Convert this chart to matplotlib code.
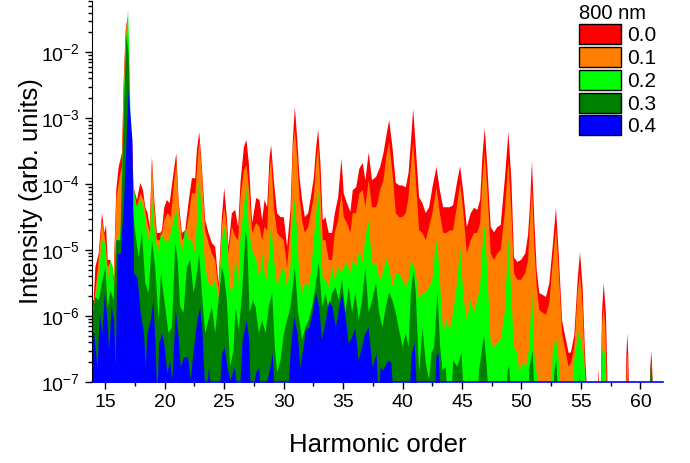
import numpy as np
import matplotlib
matplotlib.use("Agg")
import matplotlib.pyplot as plt
from matplotlib.patches import Patch
from matplotlib.ticker import MultipleLocator, LogLocator, NullFormatter

plt.rcParams['font.family'] = ['Liberation Sans', 'DejaVu Sans']
plt.rcParams['mathtext.fontset'] = 'custom'
plt.rcParams['mathtext.rm'] = 'Liberation Sans'
plt.rcParams['mathtext.it'] = 'Liberation Sans:italic'
plt.rcParams['mathtext.bf'] = 'Liberation Sans:bold'

# spectra: (harmonic order, log10 intensity)
# -7.3 means "below the axis floor"
spec_00 = [
    (13.74, -5.76), (14.02, -5.76), (14.16, -5.26), (14.44, -5.05), (14.72, -4.44), (14.92, -4.74),
    (15.06, -4.62), (15.20, -5.15), (15.42, -5.15), (15.70, -5.41), (15.92, -4.09), (16.12, -3.74),
    (16.40, -3.53), (16.54, -2.47), (16.71, -1.67), (16.88, -1.45), (17.10, -3.23), (17.24, -3.29),
    (17.38, -4.05), (17.66, -4.24), (17.94, -3.98), (18.17, -4.09), (18.36, -4.35), (18.56, -4.44),
    (18.73, -4.65), (18.92, -3.59), (19.12, -4.24), (19.34, -4.74), (19.62, -4.74), (19.76, -4.70),
    (19.96, -4.35), (20.18, -4.24), (20.41, -4.29), (20.69, -3.89), (20.97, -3.53), (21.16, -4.24),
    (21.44, -4.74), (21.72, -4.70), (22.00, -4.27), (22.28, -3.91), (22.56, -3.91), (22.70, -3.48),
    (22.90, -3.21), (23.12, -3.74), (23.40, -4.55), (23.68, -4.74), (23.96, -4.89), (24.24, -4.95),
    (24.52, -5.50), (24.80, -4.50), (25.00, -4.06), (25.22, -4.50), (25.36, -4.95), (25.64, -4.44),
    (25.92, -4.39), (26.17, -4.65), (26.37, -3.97), (26.65, -3.44), (26.87, -3.33), (27.07, -3.68),
    (27.35, -4.59), (27.69, -4.21), (27.97, -4.24), (28.19, -4.55), (28.39, -4.24), (28.61, -4.35),
    (28.81, -3.59), (28.95, -3.41), (29.17, -3.94), (29.45, -4.44), (29.73, -4.50), (30.01, -4.50),
    (30.29, -4.95), (30.57, -4.39), (30.77, -3.33), (30.94, -2.83), (31.13, -3.29), (31.33, -3.89),
    (31.55, -4.24), (31.78, -4.50), (32.06, -4.44), (32.28, -4.20), (32.53, -3.91), (32.73, -3.44),
    (32.90, -3.17), (33.09, -3.68), (33.29, -4.55), (33.51, -4.50), (33.79, -4.74), (34.07, -4.74),
    (34.30, -4.44), (34.58, -4.20), (34.86, -3.61), (35.05, -4.14), (35.33, -4.29), (35.61, -4.42),
    (35.81, -4.09), (36.09, -4.05), (36.37, -3.76), (36.65, -3.68), (36.87, -3.94), (37.15, -3.52),
    (37.43, -3.94), (37.77, -3.89), (38.11, -3.74), (38.39, -3.53), (38.67, -3.23), (38.87, -3.03),
    (39.15, -3.44), (39.43, -3.98), (39.71, -4.02), (39.99, -4.02), (40.27, -4.05), (40.50, -3.83),
    (40.69, -3.38), (40.89, -2.86), (41.11, -3.44), (41.39, -4.20), (41.67, -4.29), (41.95, -4.44),
    (42.23, -4.35), (42.51, -4.05), (42.85, -3.74), (43.13, -4.09), (43.41, -4.35), (43.69, -4.35),
    (43.97, -4.35), (44.25, -4.32), (44.61, -3.94), (44.84, -3.73), (45.12, -4.14), (45.40, -4.65),
    (45.73, -4.44), (46.01, -4.36), (46.29, -4.39), (46.52, -4.24), (46.71, -3.59), (46.91, -3.15),
    (47.13, -3.74), (47.41, -4.65), (47.69, -4.73), (47.97, -4.65), (48.25, -4.62), (48.59, -3.94),
    (48.90, -3.21), (49.15, -3.94), (49.37, -5.11), (49.65, -5.18), (49.96, -5.15), (50.32, -5.05),
    (50.55, -4.77), (50.72, -4.29), (50.88, -3.65), (51.08, -4.55), (51.28, -5.30), (51.50, -5.65),
    (51.78, -5.68), (52.06, -5.71), (52.34, -5.50), (52.62, -4.95), (52.90, -4.36), (53.13, -5.05),
    (53.41, -6.06), (53.69, -6.32), (53.97, -6.56), (54.16, -6.55), (54.44, -6.29), (54.72, -5.45),
    (54.92, -5.03), (55.14, -5.56), (55.34, -6.56), (55.56, -7.3), (56.40, -7.3), (56.49, -6.79),
    (56.58, -7.3), (56.65, -7.3), (56.77, -5.95), (56.91, -5.50), (57.10, -5.95), (57.27, -7.3),
    (58.73, -7.3), (58.82, -6.60), (58.90, -6.26), (58.98, -6.60), (59.06, -7.3), (60.74, -7.3),
    (60.83, -6.80), (60.91, -6.52), (60.99, -6.80), (61.08, -7.3), (62.0, -7.3),
]

spec_01 = [
    (13.74, -5.86), (14.02, -5.86), (14.30, -5.41), (14.72, -4.55), (15.00, -4.85), (15.20, -5.26),
    (15.42, -5.20), (15.70, -5.50), (15.92, -4.24), (16.20, -3.89), (16.40, -3.74), (16.54, -2.62),
    (16.71, -1.71), (16.88, -1.51), (17.10, -3.33), (17.38, -4.14), (17.66, -4.35), (17.94, -4.14),
    (18.22, -4.24), (18.50, -4.55), (18.73, -4.74), (18.92, -3.64), (19.12, -4.35), (19.34, -4.85),
    (19.68, -4.85), (19.96, -4.55), (20.24, -4.44), (20.52, -4.50), (20.74, -4.05), (20.97, -3.68),
    (21.19, -4.35), (21.44, -4.85), (21.72, -4.80), (22.00, -4.50), (22.28, -4.14), (22.56, -4.14),
    (22.90, -3.33), (23.12, -3.83), (23.40, -4.70), (23.68, -4.89), (23.96, -5.05), (24.24, -5.15),
    (24.52, -5.61), (24.80, -4.65), (25.00, -4.35), (25.22, -4.65), (25.36, -5.05), (25.64, -4.65),
    (25.95, -4.80), (26.17, -4.85), (26.37, -4.20), (26.65, -3.79), (26.87, -3.71), (27.07, -4.05),
    (27.35, -4.74), (27.69, -4.59), (27.97, -4.65), (28.19, -4.85), (28.39, -4.65), (28.61, -4.70),
    (28.81, -3.83), (28.95, -3.61), (29.17, -4.35), (29.45, -4.74), (29.73, -4.80), (30.01, -4.85),
    (30.29, -5.26), (30.57, -4.65), (30.77, -3.44), (30.94, -3.18), (31.13, -3.59), (31.33, -4.20),
    (31.55, -4.55), (31.78, -4.74), (32.06, -4.65), (32.28, -4.44), (32.53, -4.20), (32.73, -3.68),
    (32.90, -3.41), (33.09, -4.09), (33.29, -4.85), (33.51, -4.85), (33.79, -5.15), (34.07, -5.15),
    (34.30, -4.74), (34.58, -4.55), (34.86, -4.14), (35.05, -4.50), (35.33, -4.59), (35.61, -4.74),
    (35.81, -4.44), (36.09, -4.44), (36.37, -4.14), (36.65, -4.09), (36.87, -4.35), (37.15, -3.94),
    (37.43, -4.35), (37.77, -4.35), (37.89, -4.29), (38.11, -4.09), (38.39, -3.94), (38.67, -3.53),
    (38.87, -3.36), (39.15, -3.83), (39.43, -4.44), (39.71, -4.50), (39.99, -4.50), (40.27, -4.44),
    (40.50, -4.20), (40.69, -3.74), (40.89, -3.36), (41.11, -3.94), (41.39, -4.70), (41.67, -4.74),
    (41.95, -4.85), (42.23, -4.65), (42.51, -4.44), (42.85, -4.05), (43.13, -4.44), (43.41, -4.74),
    (43.69, -4.74), (43.97, -4.70), (44.25, -4.70), (44.61, -4.29), (44.84, -3.98), (45.12, -4.44),
    (45.40, -5.05), (45.73, -4.85), (46.01, -4.74), (46.29, -4.74), (46.52, -4.59), (46.71, -3.94),
    (46.91, -3.52), (47.13, -4.09), (47.41, -5.05), (47.69, -5.15), (47.97, -5.05), (48.25, -5.00),
    (48.59, -4.44), (48.90, -3.64), (49.15, -4.44), (49.37, -5.35), (49.65, -5.45), (49.96, -5.45),
    (50.32, -5.35), (50.55, -5.15), (50.72, -4.55), (50.88, -4.05), (51.08, -4.95), (51.28, -5.56),
    (51.50, -5.91), (51.78, -5.95), (52.06, -5.98), (52.34, -5.80), (52.62, -5.20), (52.90, -4.67),
    (53.13, -5.30), (53.41, -6.26), (53.69, -6.52), (53.97, -6.77), (54.16, -6.71), (54.44, -6.47),
    (54.72, -5.65), (54.92, -5.35), (55.14, -5.86), (55.34, -6.82), (55.51, -7.3), (56.68, -7.3),
    (56.77, -6.17), (56.91, -5.86), (57.05, -6.17), (57.20, -7.3), (58.78, -7.3), (58.84, -6.80),
    (58.90, -6.56), (58.96, -6.80), (59.02, -7.3), (60.78, -7.3), (60.91, -6.62), (61.04, -7.3),
    (62.0, -7.3),
]

spec_02 = [
    (13.74, -6.06), (14.16, -5.76), (14.44, -5.35), (14.72, -4.85), (15.00, -4.89), (15.20, -5.50),
    (15.42, -5.15), (15.64, -5.26), (15.76, -5.65), (15.98, -4.85), (16.26, -4.74), (16.40, -4.24),
    (16.54, -2.73), (16.71, -1.97), (16.91, -1.35), (17.05, -2.23), (17.16, -3.48), (17.38, -4.05),
    (17.66, -4.35), (17.94, -4.24), (18.22, -4.35), (18.50, -4.74), (18.73, -4.89), (18.92, -4.20),
    (19.20, -4.85), (19.48, -5.00), (19.68, -4.74), (19.96, -4.85), (20.24, -4.89), (20.52, -4.74),
    (20.74, -4.55), (20.97, -4.39), (21.19, -4.74), (21.44, -5.05), (21.72, -4.65), (22.00, -4.85),
    (22.28, -4.85), (22.56, -5.05), (22.90, -3.83), (23.12, -4.55), (23.40, -5.26), (23.68, -5.50),
    (23.96, -5.56), (24.24, -5.45), (24.52, -5.76), (24.80, -4.85), (25.00, -4.65), (25.22, -4.85),
    (25.50, -5.61), (25.78, -5.56), (25.95, -5.05), (26.17, -5.56), (26.37, -4.80), (26.65, -4.35),
    (26.87, -4.05), (27.07, -4.70), (27.35, -5.00), (27.69, -5.15), (27.97, -5.45), (28.19, -5.05),
    (28.39, -5.35), (28.61, -5.45), (28.81, -4.95), (28.95, -4.59), (29.17, -5.11), (29.45, -5.56),
    (29.73, -5.35), (30.01, -5.26), (30.29, -5.56), (30.57, -5.26), (30.77, -4.44), (30.94, -4.24),
    (31.13, -4.74), (31.33, -5.45), (31.55, -5.65), (31.78, -5.50), (32.06, -5.56), (32.28, -5.35),
    (32.53, -4.85), (32.73, -4.44), (32.90, -4.09), (33.09, -4.70), (33.29, -5.45), (33.51, -5.45),
    (33.79, -5.56), (34.07, -5.26), (34.30, -5.45), (34.58, -5.26), (34.86, -5.35), (35.05, -5.26),
    (35.33, -5.20), (35.61, -5.35), (35.81, -5.15), (36.09, -5.26), (36.37, -5.00), (36.65, -5.20),
    (36.87, -4.80), (37.15, -4.55), (37.43, -5.20), (37.77, -5.20), (37.89, -5.35), (38.17, -5.45),
    (38.45, -5.26), (38.67, -5.12), (38.87, -5.26), (39.15, -5.56), (39.43, -5.35), (39.71, -5.35),
    (39.99, -5.45), (40.27, -5.56), (40.50, -5.45), (40.69, -5.18), (40.89, -5.20), (41.11, -5.35),
    (41.39, -5.76), (41.67, -5.65), (41.95, -5.65), (42.23, -5.56), (42.51, -5.45), (42.79, -4.89),
    (42.93, -4.88), (43.13, -5.45), (43.41, -6.26), (43.69, -6.06), (43.97, -6.21), (44.25, -5.95),
    (44.61, -5.45), (44.84, -4.95), (45.12, -5.71), (45.40, -6.06), (45.73, -5.76), (46.01, -5.95),
    (46.29, -5.76), (46.52, -5.56), (46.71, -4.95), (46.91, -4.62), (47.13, -5.35), (47.41, -6.41),
    (47.69, -6.47), (47.97, -6.41), (48.25, -6.36), (48.59, -5.95), (48.90, -4.80), (49.15, -5.71),
    (49.37, -6.47), (49.65, -6.56), (49.82, -6.86), (50.10, -6.71), (50.38, -6.77), (50.66, -6.47),
    (50.88, -5.58), (51.08, -6.56), (51.28, -6.86), (51.45, -7.3), (52.50, -7.3), (52.62, -6.56),
    (52.90, -6.32), (53.13, -6.67), (53.30, -7.3), (54.30, -7.3), (54.44, -6.67), (54.78, -6.24),
    (55.00, -6.36), (55.28, -6.71), (55.45, -7.3), (56.68, -7.3), (56.77, -6.56), (56.91, -6.44),
    (57.05, -6.67), (57.20, -7.3), (58.82, -7.3), (58.90, -6.79), (58.98, -7.3), (60.80, -7.3),
    (60.91, -6.67), (61.02, -7.3), (62.0, -7.3),
]

spec_03 = [
    (13.74, -6.17), (14.16, -5.71), (14.44, -5.76), (14.72, -5.50), (15.00, -5.26), (15.20, -5.86),
    (15.42, -5.61), (15.70, -5.76), (15.92, -4.85), (16.26, -4.85), (16.54, -3.03), (16.77, -1.74),
    (16.96, -2.02), (17.10, -3.23), (17.33, -4.44), (17.52, -4.74), (17.80, -5.11), (18.08, -4.74),
    (18.36, -5.50), (18.64, -5.65), (18.92, -4.85), (19.20, -5.26), (19.48, -6.06), (19.68, -5.35),
    (19.96, -5.76), (20.32, -6.26), (20.60, -6.17), (20.88, -4.89), (21.08, -5.15), (21.30, -5.86),
    (21.58, -5.95), (21.86, -5.26), (22.14, -5.15), (22.42, -5.65), (22.70, -5.35), (22.90, -5.05),
    (23.12, -5.65), (23.40, -6.26), (23.68, -6.06), (23.96, -5.86), (24.24, -6.26), (24.52, -5.76),
    (24.80, -5.26), (25.00, -5.41), (25.22, -5.76), (25.50, -6.77), (25.78, -6.52), (25.95, -5.86),
    (26.23, -6.21), (26.51, -5.65), (26.79, -4.70), (26.93, -4.85), (27.13, -5.95), (27.41, -5.76),
    (27.63, -5.86), (27.91, -6.26), (28.19, -6.06), (28.47, -6.26), (28.75, -5.86), (29.03, -5.65),
    (29.26, -6.47), (29.45, -6.86), (29.73, -6.67), (30.01, -6.26), (30.29, -6.06), (30.57, -5.86),
    (30.94, -5.26), (31.22, -5.95), (31.55, -6.36), (31.83, -6.17), (32.11, -6.06), (32.39, -5.86),
    (32.67, -5.56), (32.95, -5.18), (33.23, -5.86), (33.51, -5.65), (33.79, -5.91), (34.07, -5.65),
    (34.35, -5.56), (34.63, -5.76), (34.91, -5.45), (35.19, -5.95), (35.47, -5.56), (35.75, -5.95),
    (36.03, -5.65), (36.31, -6.06), (36.59, -5.76), (36.87, -5.26), (37.15, -5.95), (37.43, -5.76),
    (37.77, -5.50), (38.03, -5.95), (38.31, -6.17), (38.59, -5.86), (38.87, -5.64), (39.15, -5.76),
    (39.43, -5.95), (39.71, -6.21), (39.99, -6.47), (40.27, -6.26), (40.50, -6.47), (40.69, -5.65),
    (40.92, -5.30), (41.11, -5.65), (41.39, -6.86), (41.67, -6.17), (41.95, -6.71), (42.23, -6.97),
    (42.43, -6.56), (42.65, -6.47), (42.93, -5.64), (43.16, -6.47), (43.35, -6.82), (43.63, -6.77),
    (43.80, -7.3), (44.10, -7.3), (44.25, -6.67), (44.61, -6.77), (44.95, -6.55), (45.17, -7.3),
    (45.50, -7.3), (45.59, -6.92), (45.70, -7.3), (46.30, -7.3), (46.43, -6.82), (46.85, -6.29),
    (47.08, -6.77), (47.27, -7.3), (48.70, -7.3), (48.81, -6.86), (48.95, -6.74), (49.15, -7.3),
    (50.55, -7.3), (50.66, -6.79), (50.94, -6.52), (51.11, -7.3), (52.65, -7.3), (52.76, -6.86),
    (52.93, -6.65), (53.10, -7.3), (54.78, -7.3), (54.86, -6.86), (54.97, -7.3), (58.88, -7.3),
    (58.95, -6.86), (59.02, -7.3), (60.74, -7.3), (60.91, -6.62), (61.08, -7.3), (62.0, -7.3),
]

spec_04 = [
    (13.74, -6.17), (14.02, -6.26), (14.30, -6.77), (14.50, -5.95), (14.72, -6.26), (14.92, -5.65),
    (15.14, -6.06), (15.28, -6.52), (15.48, -5.83), (15.70, -6.06), (15.84, -6.77), (15.98, -5.05),
    (16.26, -5.05), (16.54, -4.24), (16.77, -3.23), (16.91, -2.56), (17.05, -2.88), (17.24, -3.33),
    (17.38, -5.35), (17.66, -5.41), (17.94, -5.95), (18.22, -6.26), (18.36, -6.77), (18.50, -6.26),
    (18.78, -6.06), (19.01, -5.76), (19.20, -6.52), (19.34, -7.3), (19.48, -6.41), (19.76, -6.26),
    (19.96, -6.47), (20.18, -6.86), (20.41, -6.67), (20.60, -6.97), (20.88, -5.91), (21.08, -6.21),
    (21.30, -6.77), (21.58, -6.62), (21.92, -6.62), (22.14, -6.97), (22.42, -6.47), (22.70, -6.06),
    (22.93, -5.86), (23.12, -6.21), (23.40, -7.3), (23.68, -6.77), (23.96, -7.3), (24.52, -7.3),
    (24.80, -6.56), (25.00, -6.47), (25.22, -6.77), (25.50, -6.97), (25.84, -6.77), (25.95, -6.92),
    (26.23, -7.3), (26.51, -6.36), (26.85, -6.06), (27.07, -6.36), (27.21, -7.3), (27.63, -6.86),
    (27.91, -6.77), (28.05, -7.3), (28.75, -6.86), (29.03, -6.55), (29.23, -7.3), (30.29, -7.3),
    (30.57, -6.47), (30.85, -6.00), (31.13, -6.26), (31.36, -6.77), (31.55, -6.56), (31.83, -6.21),
    (32.11, -6.17), (32.39, -5.95), (32.67, -5.64), (32.95, -5.86), (33.18, -6.36), (33.46, -6.11),
    (33.79, -5.76), (34.07, -5.86), (34.35, -6.17), (34.63, -5.86), (34.86, -5.65), (35.14, -5.95),
    (35.42, -6.41), (35.70, -6.32), (35.98, -6.17), (36.26, -6.67), (36.54, -6.47), (36.82, -6.26),
    (37.10, -6.17), (37.43, -6.77), (37.77, -6.56), (37.95, -7.3), (38.11, -6.77), (38.31, -6.82),
    (38.45, -6.77), (38.73, -6.67), (39.01, -6.70), (39.23, -7.3), (39.65, -7.3), (39.71, -6.97),
    (39.85, -7.3), (40.55, -7.3), (40.69, -6.62), (40.97, -6.39), (41.20, -7.3), (42.65, -7.3),
    (42.79, -6.62), (42.99, -6.55), (43.16, -7.3), (62.0, -7.3),
]

labels = ['0.0', '0.1', '0.2', '0.3', '0.4']
colors = ['#ff0000', '#ff8000', '#00ff00', '#008000', '#0000ff']
spectra = [spec_00, spec_01, spec_02, spec_03, spec_04]

fig, ax = plt.subplots(figsize=(6.9, 4.63), dpi=100)
fig.subplots_adjust(left=92/690, right=663/690, bottom=1-382/463, top=0.998)

for spec, c in zip(spectra, colors):
    x, logI = np.array(spec).T
    ax.fill_between(x, 10.0**logI, 1e-9, color=c, lw=0)

ax.set_yscale('log')
ax.set_xlim(13.88, 61.9)
ax.set_ylim(1e-7, 6e-2)

ax.xaxis.set_major_locator(MultipleLocator(5))
ax.xaxis.set_minor_locator(MultipleLocator(2.5))
ax.yaxis.set_major_locator(LogLocator(base=10, numticks=12))
ax.yaxis.set_minor_locator(LogLocator(base=10, subs=np.arange(2, 10), numticks=12))
ax.yaxis.set_minor_formatter(NullFormatter())
ax.tick_params(which='both', direction='out', labelsize=14, color='black')
ax.tick_params(which='major', length=5, width=1)
ax.tick_params(which='minor', length=3, width=1)

for s in ['top', 'right']:
    ax.spines[s].set_visible(False)
ax.spines['bottom'].set_color('#0000ff')
ax.spines['bottom'].set_linewidth(1.2)

ax.set_xlabel('Harmonic order', fontsize=18.5, labelpad=16)
ax.set_ylabel('Intensity (arb. units)', fontsize=18.5, labelpad=-1)

handles = [Patch(facecolor=c, edgecolor='black', lw=1) for c in colors]
leg = ax.legend(handles, labels, title='800 nm', loc='upper left', bbox_to_anchor=(0.853, 0.993),
                frameon=False, fontsize=15, title_fontsize=14.5, handlelength=2.0,
                handleheight=1.1, labelspacing=0.08, handletextpad=0.3, borderpad=0,
                borderaxespad=0, alignment='left')

fig.savefig('out.png', dpi=100)
